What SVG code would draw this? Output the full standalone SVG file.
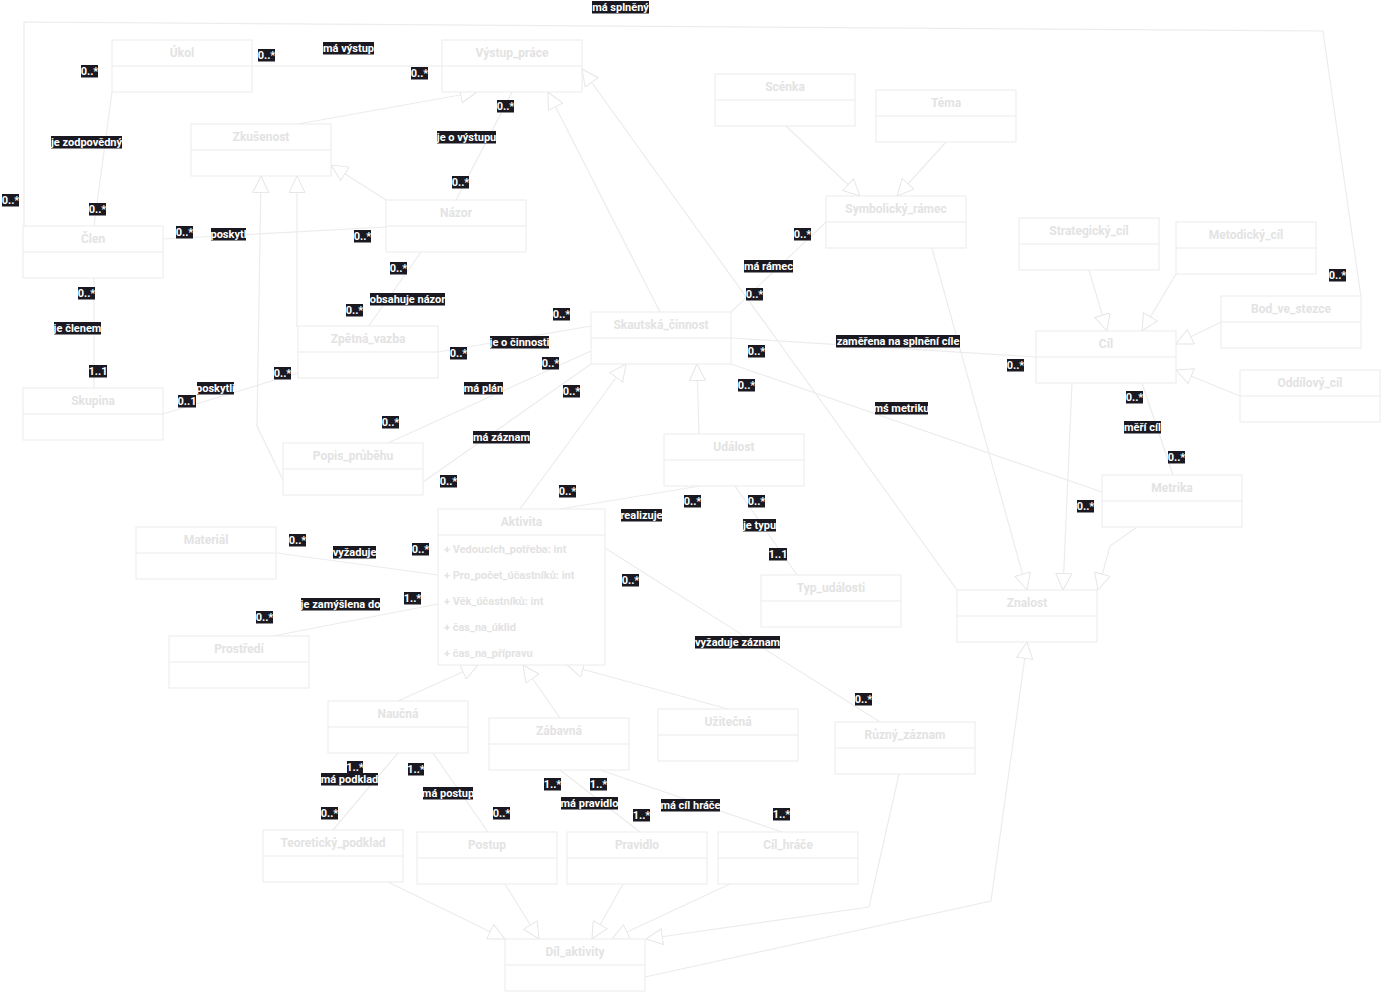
<svg xmlns="http://www.w3.org/2000/svg" width="1381" height="998" viewBox="0 0 1381 998">
<style>
.n rect{fill:#fff;stroke:#ebebeb;stroke-width:1}
.n line{stroke:#ebebeb;stroke-width:1}
.n text{font-family:Roboto,"Liberation Sans",sans-serif;font-weight:700;font-size:12px;fill:#e3e3e3;text-anchor:middle}
.n text.at{font-size:11px;text-anchor:start}
.c path{fill:none;stroke:#ececec;stroke-width:1.2}
.c path.g{marker-end:url(#tri)}
.l rect{fill:#1a1922}
.l text{font-family:Roboto,"Liberation Sans",sans-serif;font-weight:700;font-size:11px;fill:#fff;text-anchor:middle}
</style>
<defs>
<marker id="tri" viewBox="0 0 17 17" refX="17" refY="8.5" markerWidth="17" markerHeight="17" markerUnits="userSpaceOnUse" orient="auto">
<path d="M0.5,0.5 L17,8.5 L0.5,16.5 Z" fill="#fff" stroke="#e6e6e6" stroke-width="1"/>
</marker>
</defs>
<rect width="1381" height="998" fill="#fff"/>
<g id="connectors" class="c">
<path d="M252,66 L442,66"/>
<path d="M24,226 L24,22 L1323,31 L1361,297"/>
<path d="M112,92 L94,226"/>
<path d="M163,239 L386,227"/>
<path d="M94,278 L94,388"/>
<path d="M163,414 L298,373"/>
<path d="M421,252 L368,327"/>
<path d="M512,92 L456,200"/>
<path d="M438,352 L591,326"/>
<path d="M388,443 L591,351"/>
<path d="M423,482 L591,364"/>
<path d="M560,509 L700,486"/>
<path d="M735,486 L797,575"/>
<path d="M731,312 L826,222"/>
<path d="M731,338 L1036,357"/>
<path d="M731,364 L1102,492"/>
<path d="M1142,383 L1173,475"/>
<path d="M277,553 L438,575"/>
<path d="M273,636 L438,604"/>
<path d="M605,548 L880,722"/>
<path d="M398,753 L333,830"/>
<path d="M433,753 L488,832"/>
<path d="M560,770 L640,832"/>
<path d="M600,770 L782,832"/>
<path class="g" d="M386,200 L331,165"/>
<path class="g" d="M298,124 L477,92"/>
<path class="g" d="M297,327 L297,176"/>
<path class="g" d="M283,480 L257,426 L261,176"/>
<path class="g" d="M660,312 L548,92"/>
<path class="g" d="M957,590 L582,69"/>
<path class="g" d="M520,509 L626,364"/>
<path class="g" d="M699,434 L697,364"/>
<path class="g" d="M786,126 L860,196"/>
<path class="g" d="M946,142 L897,196"/>
<path class="g" d="M932,248 L1027,590"/>
<path class="g" d="M1072,383 L1063,590"/>
<path class="g" d="M1137,527 L1110,546 L1098,590"/>
<path class="g" d="M1089,270 L1107,331"/>
<path class="g" d="M1176,274 L1142,331"/>
<path class="g" d="M1221,322 L1176,344"/>
<path class="g" d="M1240,396 L1176,370"/>
<path class="g" d="M398,701 L478,665"/>
<path class="g" d="M560,718 L523,665"/>
<path class="g" d="M728,709 L567,665"/>
<path class="g" d="M388,882 L505,939"/>
<path class="g" d="M505,884 L539,939"/>
<path class="g" d="M623,884 L592,939"/>
<path class="g" d="M730,884 L612,939"/>
<path class="g" d="M899,774 L869,907 L646,939"/>
<path class="g" d="M645,977 L991,901 L1027,642"/>
</g>
<g id="ukol" class="n" transform="translate(112,40)"><rect width="140" height="52"/><line x1="0" y1="26" x2="140" y2="26"/><text x="70" y="17">Úkol</text></g>
<g id="vystup_prace" class="n" transform="translate(442,40)"><rect width="140" height="52"/><line x1="0" y1="26" x2="140" y2="26"/><text x="70" y="17">Výstup_práce</text></g>
<g id="zkusenost" class="n" transform="translate(191,124)"><rect width="140" height="52"/><line x1="0" y1="26" x2="140" y2="26"/><text x="70" y="17">Zkušenost</text></g>
<g id="clen" class="n" transform="translate(23,226)"><rect width="140" height="52"/><line x1="0" y1="26" x2="140" y2="26"/><text x="70" y="17">Člen</text></g>
<g id="nazor" class="n" transform="translate(386,200)"><rect width="140" height="52"/><line x1="0" y1="26" x2="140" y2="26"/><text x="70" y="17">Názor</text></g>
<g id="scenka" class="n" transform="translate(715,74)"><rect width="140" height="52"/><line x1="0" y1="26" x2="140" y2="26"/><text x="70" y="17">Scénka</text></g>
<g id="tema" class="n" transform="translate(876,90)"><rect width="140" height="52"/><line x1="0" y1="26" x2="140" y2="26"/><text x="70" y="17">Téma</text></g>
<g id="symbolicky_ramec" class="n" transform="translate(826,196)"><rect width="140" height="52"/><line x1="0" y1="26" x2="140" y2="26"/><text x="70" y="17">Symbolický_rámec</text></g>
<g id="strategicky_cil" class="n" transform="translate(1019,218)"><rect width="140" height="52"/><line x1="0" y1="26" x2="140" y2="26"/><text x="70" y="17">Strategický_cíl</text></g>
<g id="metodicky_cil" class="n" transform="translate(1176,222)"><rect width="140" height="52"/><line x1="0" y1="26" x2="140" y2="26"/><text x="70" y="17">Metodický_cíl</text></g>
<g id="bod_ve_stezce" class="n" transform="translate(1221,296)"><rect width="140" height="52"/><line x1="0" y1="26" x2="140" y2="26"/><text x="70" y="17">Bod_ve_stezce</text></g>
<g id="cil" class="n" transform="translate(1036,331)"><rect width="140" height="52"/><line x1="0" y1="26" x2="140" y2="26"/><text x="70" y="17">Cíl</text></g>
<g id="oddilovy_cil" class="n" transform="translate(1240,370)"><rect width="140" height="52"/><line x1="0" y1="26" x2="140" y2="26"/><text x="70" y="17">Oddílový_cíl</text></g>
<g id="metrika" class="n" transform="translate(1102,475)"><rect width="140" height="52"/><line x1="0" y1="26" x2="140" y2="26"/><text x="70" y="17">Metrika</text></g>
<g id="znalost" class="n" transform="translate(957,590)"><rect width="140" height="52"/><line x1="0" y1="26" x2="140" y2="26"/><text x="70" y="17">Znalost</text></g>
<g id="skautska_cinnost" class="n" transform="translate(591,312)"><rect width="140" height="52"/><line x1="0" y1="26" x2="140" y2="26"/><text x="70" y="17">Skautská_činnost</text></g>
<g id="zpetna_vazba" class="n" transform="translate(298,326)"><rect width="140" height="52"/><line x1="0" y1="26" x2="140" y2="26"/><text x="70" y="17">Zpětná_vazba</text></g>
<g id="skupina" class="n" transform="translate(23,388)"><rect width="140" height="52"/><line x1="0" y1="26" x2="140" y2="26"/><text x="70" y="17">Skupina</text></g>
<g id="popis_prubehu" class="n" transform="translate(283,443)"><rect width="140" height="52"/><line x1="0" y1="26" x2="140" y2="26"/><text x="70" y="17">Popis_průběhu</text></g>
<g id="udalost" class="n" transform="translate(664,434)"><rect width="140" height="52"/><line x1="0" y1="26" x2="140" y2="26"/><text x="70" y="17">Událost</text></g>
<g id="aktivita" class="n" transform="translate(438,509)"><rect width="167" height="156"/><line x1="0" y1="26" x2="167" y2="26"/><text x="83.5" y="17">Aktivita</text>
<text class="at" x="6" y="44">+ Vedoucích_potřeba: int</text>
<text class="at" x="6" y="70">+ Pro_počet_účastníků: int</text>
<text class="at" x="6" y="96">+ Věk_účastníků: int</text>
<text class="at" x="6" y="122">+ čas_na_úklid</text>
<text class="at" x="6" y="148">+ čas_na_přípravu</text></g>
<g id="material" class="n" transform="translate(136,527)"><rect width="140" height="52"/><line x1="0" y1="26" x2="140" y2="26"/><text x="70" y="17">Materiál</text></g>
<g id="prostredi" class="n" transform="translate(169,636)"><rect width="140" height="52"/><line x1="0" y1="26" x2="140" y2="26"/><text x="70" y="17">Prostředí</text></g>
<g id="typ_udalosti" class="n" transform="translate(761,575)"><rect width="140" height="52"/><line x1="0" y1="26" x2="140" y2="26"/><text x="70" y="17">Typ_události</text></g>
<g id="uzitecna" class="n" transform="translate(658,709)"><rect width="140" height="52"/><line x1="0" y1="26" x2="140" y2="26"/><text x="70" y="17">Užitečná</text></g>
<g id="ruzny_zaznam" class="n" transform="translate(835,722)"><rect width="140" height="52"/><line x1="0" y1="26" x2="140" y2="26"/><text x="70" y="17">Různý_záznam</text></g>
<g id="naucna" class="n" transform="translate(328,701)"><rect width="140" height="52"/><line x1="0" y1="26" x2="140" y2="26"/><text x="70" y="17">Naučná</text></g>
<g id="zabavna" class="n" transform="translate(489,718)"><rect width="140" height="52"/><line x1="0" y1="26" x2="140" y2="26"/><text x="70" y="17">Zábavná</text></g>
<g id="teoreticky_podklad" class="n" transform="translate(263,830)"><rect width="140" height="52"/><line x1="0" y1="26" x2="140" y2="26"/><text x="70" y="17">Teoretický_podklad</text></g>
<g id="postup" class="n" transform="translate(417,832)"><rect width="140" height="52"/><line x1="0" y1="26" x2="140" y2="26"/><text x="70" y="17">Postup</text></g>
<g id="pravidlo" class="n" transform="translate(567,832)"><rect width="140" height="52"/><line x1="0" y1="26" x2="140" y2="26"/><text x="70" y="17">Pravidlo</text></g>
<g id="cil_hrace" class="n" transform="translate(718,832)"><rect width="140" height="52"/><line x1="0" y1="26" x2="140" y2="26"/><text x="70" y="17">Cíl_hráče</text></g>
<g id="dil_aktivity" class="n" transform="translate(505,939)"><rect width="140" height="52"/><line x1="0" y1="26" x2="140" y2="26"/><text x="70" y="17">Díl_aktivity</text></g>
<g id="labels" class="l">
<rect x="592" y="1" width="57" height="12.5"/><text x="620.5" y="11">má splněný</text>
<rect x="258" y="49" width="17" height="12.5"/><text x="266.5" y="59">0..*</text>
<rect x="323" y="42" width="51" height="12.5"/><text x="348.5" y="52">má výstup</text>
<rect x="411" y="67" width="17" height="12.5"/><text x="419.5" y="77">0..*</text>
<rect x="81" y="65" width="17" height="12.5"/><text x="89.5" y="75">0..*</text>
<rect x="51" y="136" width="71" height="12.5"/><text x="86.5" y="146">je zodpovědný</text>
<rect x="2" y="194" width="17" height="12.5"/><text x="10.5" y="204">0..*</text>
<rect x="89" y="203" width="17" height="12.5"/><text x="97.5" y="213">0..*</text>
<rect x="176" y="226" width="17" height="12.5"/><text x="184.5" y="236">0..*</text>
<rect x="211" y="228" width="35" height="12.5"/><text x="228.5" y="238">poskytl</text>
<rect x="354" y="230" width="17" height="12.5"/><text x="362.5" y="240">0..*</text>
<rect x="390" y="262" width="17" height="12.5"/><text x="398.5" y="272">0..*</text>
<rect x="437" y="131" width="59" height="12.5"/><text x="466.5" y="141">je o výstupu</text>
<rect x="497" y="100" width="17" height="12.5"/><text x="505.5" y="110">0..*</text>
<rect x="452" y="176" width="17" height="12.5"/><text x="460.5" y="186">0..*</text>
<rect x="744" y="260" width="49" height="12.5"/><text x="768.5" y="270">má rámec</text>
<rect x="794" y="228" width="17" height="12.5"/><text x="802.5" y="238">0..*</text>
<rect x="746" y="288" width="17" height="12.5"/><text x="754.5" y="298">0..*</text>
<rect x="1329" y="269" width="17" height="12.5"/><text x="1337.5" y="279">0..*</text>
<rect x="78" y="287" width="17" height="12.5"/><text x="86.5" y="297">0..*</text>
<rect x="54" y="322" width="47" height="12.5"/><text x="77.5" y="332">je členem</text>
<rect x="89" y="365" width="18" height="12.5"/><text x="98" y="375">1..1</text>
<rect x="197" y="382" width="37" height="12.5"/><text x="215.5" y="392">poskytli</text>
<rect x="178" y="395" width="18" height="12.5"/><text x="187" y="405">0..1</text>
<rect x="274" y="367" width="17" height="12.5"/><text x="282.5" y="377">0..*</text>
<rect x="370" y="293" width="75" height="12.5"/><text x="407.5" y="303">obsahuje názor</text>
<rect x="346" y="304" width="17" height="12.5"/><text x="354.5" y="314">0..*</text>
<rect x="382" y="416" width="17" height="12.5"/><text x="390.5" y="426">0..*</text>
<rect x="440" y="475" width="17" height="12.5"/><text x="448.5" y="485">0..*</text>
<rect x="450" y="347" width="17" height="12.5"/><text x="458.5" y="357">0..*</text>
<rect x="553" y="308" width="17" height="12.5"/><text x="561.5" y="318">0..*</text>
<rect x="490" y="336" width="59" height="12.5"/><text x="519.5" y="346">je o činnosti</text>
<rect x="542" y="357" width="17" height="12.5"/><text x="550.5" y="367">0..*</text>
<rect x="464" y="382" width="39" height="12.5"/><text x="483.5" y="392">má plán</text>
<rect x="563" y="385" width="17" height="12.5"/><text x="571.5" y="395">0..*</text>
<rect x="473" y="431" width="57" height="12.5"/><text x="501.5" y="441">má záznam</text>
<rect x="559" y="485" width="17" height="12.5"/><text x="567.5" y="495">0..*</text>
<rect x="621" y="509" width="41" height="12.5"/><text x="641.5" y="519">realizuje</text>
<rect x="684" y="495" width="17" height="12.5"/><text x="692.5" y="505">0..*</text>
<rect x="748" y="495" width="17" height="12.5"/><text x="756.5" y="505">0..*</text>
<rect x="743" y="519" width="33" height="12.5"/><text x="759.5" y="529">je typu</text>
<rect x="769" y="548" width="18" height="12.5"/><text x="778" y="558">1..1</text>
<rect x="748" y="345" width="17" height="12.5"/><text x="756.5" y="355">0..*</text>
<rect x="738" y="379" width="17" height="12.5"/><text x="746.5" y="389">0..*</text>
<rect x="836" y="335" width="124" height="12.5"/><text x="898" y="345">zaměřena na splnění cíle</text>
<rect x="1007" y="359" width="17" height="12.5"/><text x="1015.5" y="369">0..*</text>
<rect x="875" y="402" width="53" height="12.5"/><text x="901.5" y="412">mś metriku</text>
<rect x="1126" y="391" width="17" height="12.5"/><text x="1134.5" y="401">0..*</text>
<rect x="1124" y="421" width="37" height="12.5"/><text x="1142.5" y="431">měří cíl</text>
<rect x="1168" y="451" width="17" height="12.5"/><text x="1176.5" y="461">0..*</text>
<rect x="1077" y="500" width="17" height="12.5"/><text x="1085.5" y="510">0..*</text>
<rect x="289" y="534" width="17" height="12.5"/><text x="297.5" y="544">0..*</text>
<rect x="333" y="546" width="43" height="12.5"/><text x="354.5" y="556">vyžaduje</text>
<rect x="412" y="543" width="17" height="12.5"/><text x="420.5" y="553">0..*</text>
<rect x="301" y="598" width="79" height="12.5"/><text x="340.5" y="608">je zamýšlena do</text>
<rect x="404" y="592" width="17" height="12.5"/><text x="412.5" y="602">1..*</text>
<rect x="256" y="611" width="17" height="12.5"/><text x="264.5" y="621">0..*</text>
<rect x="622" y="574" width="17" height="12.5"/><text x="630.5" y="584">0..*</text>
<rect x="695" y="636" width="85" height="12.5"/><text x="737.5" y="646">vyžaduje záznam</text>
<rect x="855" y="693" width="17" height="12.5"/><text x="863.5" y="703">0..*</text>
<rect x="347" y="761" width="16" height="12.5"/><text x="355" y="771">1..*</text>
<rect x="321" y="773" width="57" height="12.5"/><text x="349.5" y="783">má podklad</text>
<rect x="321" y="807" width="17" height="12.5"/><text x="329.5" y="817">0..*</text>
<rect x="408" y="763" width="16" height="12.5"/><text x="416" y="773">1..*</text>
<rect x="423" y="787" width="50" height="12.5"/><text x="448" y="797">má postup</text>
<rect x="493" y="807" width="17" height="12.5"/><text x="501.5" y="817">0..*</text>
<rect x="544" y="778" width="17" height="12.5"/><text x="552.5" y="788">1..*</text>
<rect x="590" y="778" width="17" height="12.5"/><text x="598.5" y="788">1..*</text>
<rect x="561" y="797" width="57" height="12.5"/><text x="589.5" y="807">má pravidlo</text>
<rect x="633" y="809" width="17" height="12.5"/><text x="641.5" y="819">1..*</text>
<rect x="661" y="799" width="59" height="12.5"/><text x="690.5" y="809">má cíl hráče</text>
<rect x="773" y="808" width="17" height="12.5"/><text x="781.5" y="818">1..*</text>
</g>
</svg>
